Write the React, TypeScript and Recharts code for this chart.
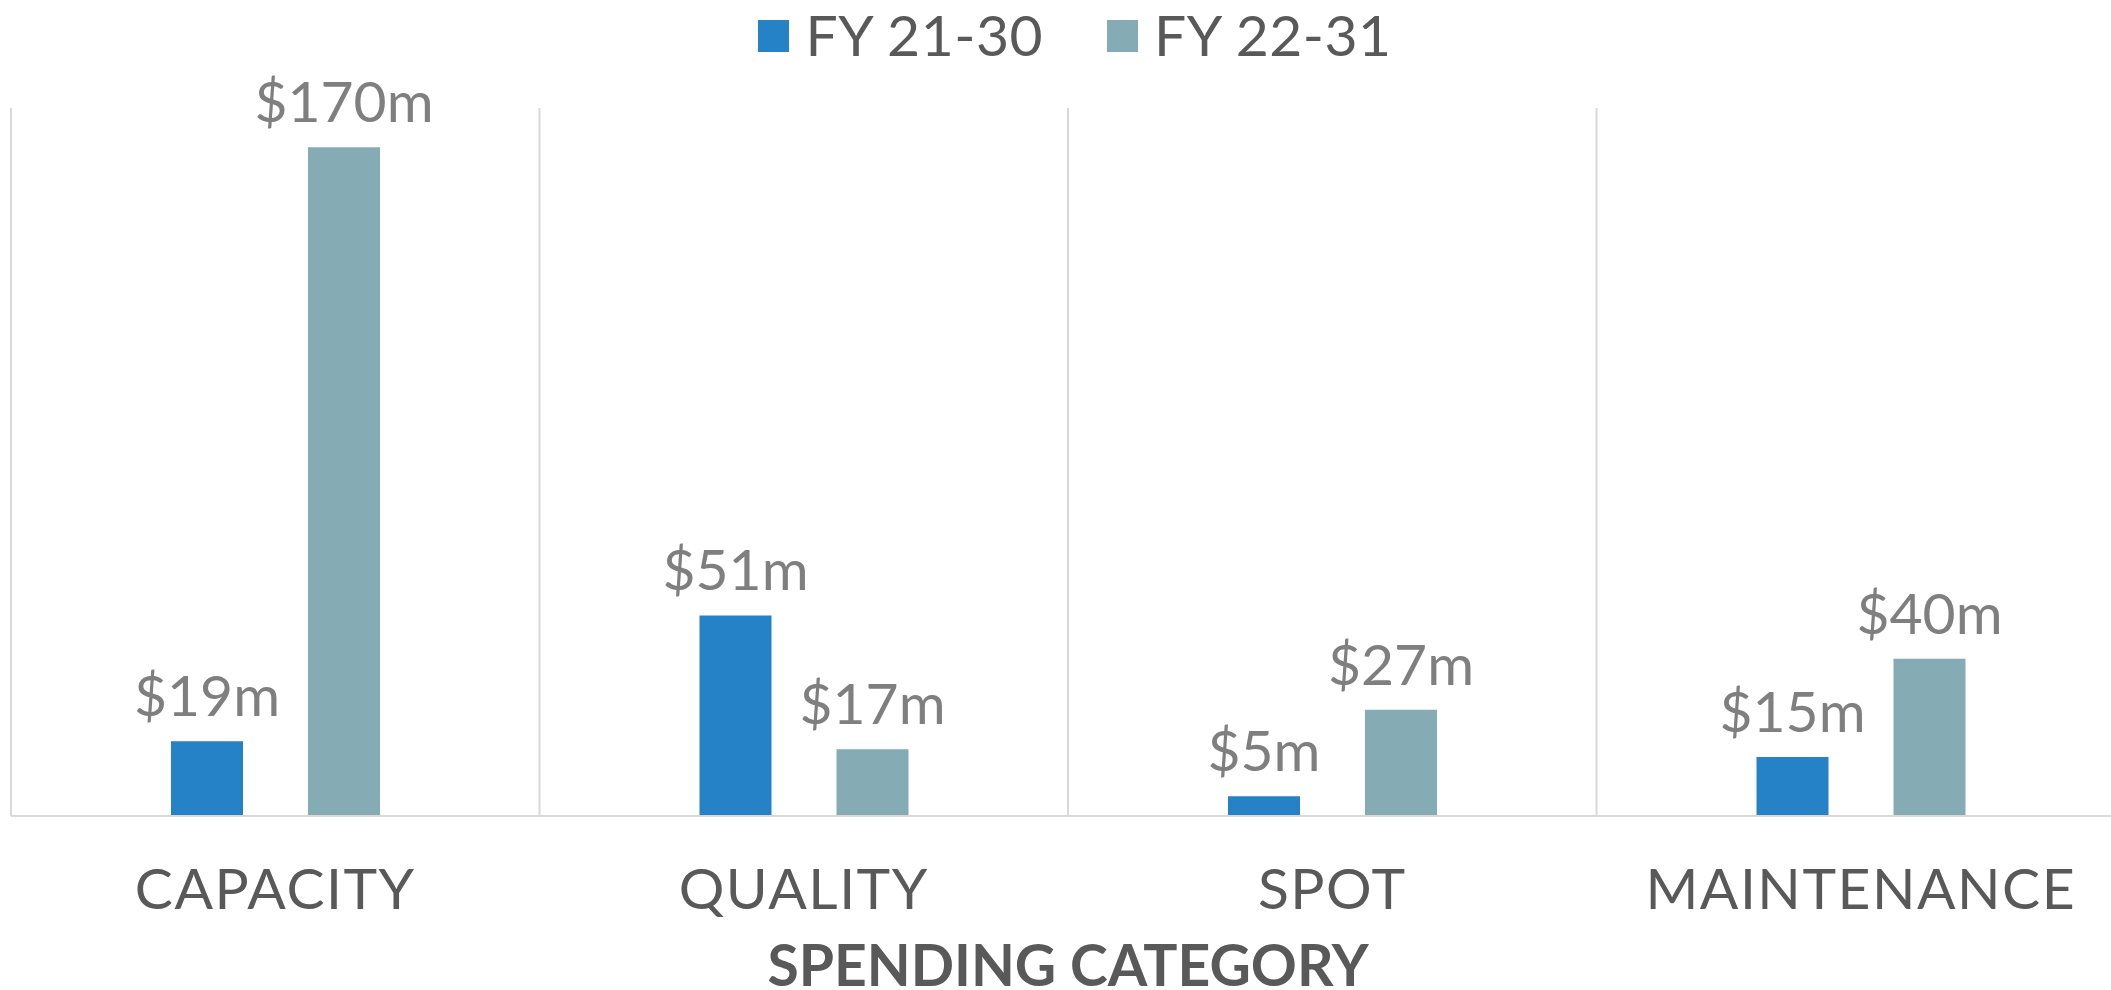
import React from 'react';
import { BarChart, Bar, XAxis, YAxis, CartesianGrid, Legend, LabelList } from 'recharts';

const categories = ['CAPACITY', 'QUALITY', 'SPOT', 'MAINTENANCE'];
const fy2130 = [19, 51, 5, 15];
const fy2231 = [170, 17, 27, 40];
const seriesNames = ['FY 21-30', 'FY 22-31'];
const seriesColors = ['#2682c7', '#85abb5'];

const data = categories.map((category, i) => ({
  category,
  a: fy2130[i],
  b: fy2231[i],
}));

const FONT = 'Lato, "Open Sans", sans-serif';

const CategoryTick = ({ x, y, payload }: any) => (
  <text x={x} y={y + 93} textAnchor="middle" fill="#595959" fontSize={57} letterSpacing={1.5} fontFamily={FONT}>
    {payload.value}
  </text>
);

const AxisTitle = ({ viewBox }: any) => (
  <text
    x={viewBox.x + viewBox.width / 2}
    y={viewBox.y + 170}
    textAnchor="middle"
    fill="#595959"
    fontSize={57}
    fontWeight={700}
    fontFamily={FONT}
  >
    SPENDING CATEGORY
  </text>
);

const LegendContent = () => (
  <div style={{ display: 'flex', justifyContent: 'center', alignItems: 'flex-start', fontFamily: FONT }}>
    {seriesNames.map((name, i) => (
      <div key={name} style={{ display: 'flex', alignItems: 'flex-start', marginLeft: i === 0 ? 0 : 64 }}>
        <div style={{ width: 31, height: 32, marginTop: 20, background: seriesColors[i] }} />
        <span style={{ marginLeft: 16, fontSize: 57, lineHeight: '68px', letterSpacing: 0.5, color: '#595959' }}>
          {name}
        </span>
      </div>
    ))}
  </div>
);

const money = (v: any) => `$${v}m`;

export default function App() {
  return (
    <div style={{ position: 'fixed', left: 0, top: 0, width: 2111, height: 990, overflow: 'hidden', background: '#fff' }}>
      <BarChart
        width={2140}
        height={990}
        data={data}
        margin={{ top: 108, right: 15, bottom: 0, left: 11 }}
        barSize={72}
        barGap={65}
      >
        <CartesianGrid
          horizontal={false}
          stroke="#d9d9d9"
          strokeWidth={2}
          verticalCoordinatesGenerator={({ offset }: any) =>
            categories.map((_, i) => offset.left + (i * offset.width) / categories.length)
          }
        />
        <XAxis
          dataKey="category"
          height={174}
          interval={0}
          tickLine={false}
          tickSize={0}
          tickMargin={0}
          axisLine={{ stroke: '#d9d9d9', strokeWidth: 2 }}
          tick={<CategoryTick />}
          label={<AxisTitle />}
        />
        <YAxis hide domain={[0, 180]} />
        <Legend
          layout="horizontal"
          verticalAlign="middle"
          align="center"
          content={<LegendContent />}
          wrapperStyle={{ top: 0, left: 5, width: 2140 }}
        />
        <Bar dataKey="a" name={seriesNames[0]} fill={seriesColors[0]} isAnimationActive={false}>
          <LabelList dataKey="a" position="top" offset={25} formatter={money} fill="#7f7f7f" fontSize={57} fontFamily={FONT} />
        </Bar>
        <Bar dataKey="b" name={seriesNames[1]} fill={seriesColors[1]} isAnimationActive={false}>
          <LabelList dataKey="b" position="top" offset={25} formatter={money} fill="#7f7f7f" fontSize={57} fontFamily={FONT} />
        </Bar>
      </BarChart>
    </div>
  );
}
